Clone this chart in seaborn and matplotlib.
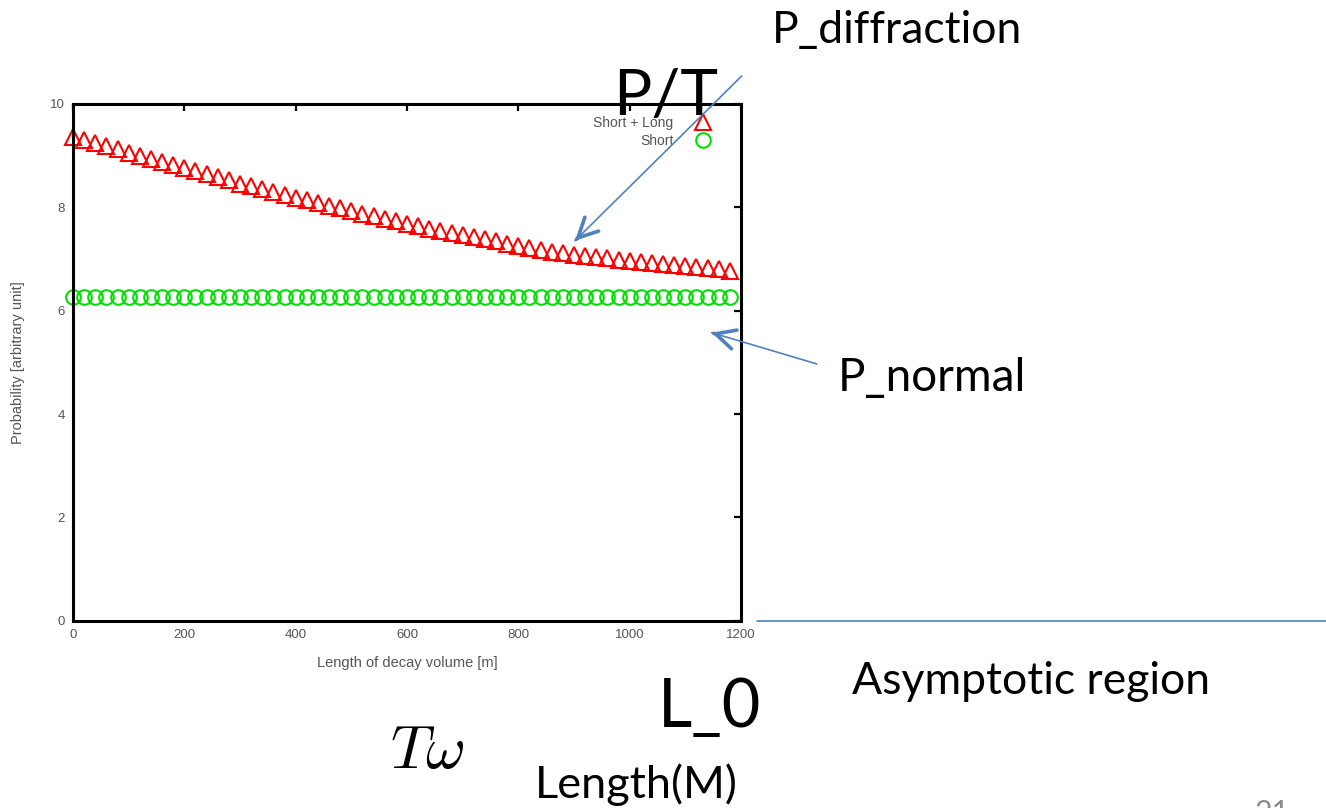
import matplotlib
matplotlib.use("Agg")
import matplotlib.pyplot as plt
import seaborn as sns
from matplotlib.patches import FancyArrowPatch
from matplotlib.lines import Line2D

# ---------------------------------------------------------------- data
length_m = [0, 20, 40, 60, 80, 100, 120, 140, 160, 180,
            200, 220, 240, 260, 280, 300, 320, 340, 360, 380,
            400, 420, 440, 460, 480, 500, 520, 540, 560, 580,
            600, 620, 640, 660, 680, 700, 720, 740, 760, 780,
            800, 820, 840, 860, 880, 900, 920, 940, 960, 980,
            1000, 1020, 1040, 1060, 1080, 1100, 1120, 1140, 1160, 1180]

short_long = [9.37, 9.31, 9.25, 9.18, 9.12, 9.06, 9.00, 8.94, 8.88, 8.82,
              8.76, 8.70, 8.64, 8.58, 8.52, 8.46, 8.41, 8.35, 8.30, 8.24,
              8.19, 8.14, 8.08, 8.03, 7.98, 7.93, 7.88, 7.83, 7.78, 7.73,
              7.68, 7.63, 7.58, 7.54, 7.50, 7.46, 7.42, 7.38, 7.34, 7.30,
              7.26, 7.22, 7.18, 7.14, 7.11, 7.08, 7.05, 7.03, 7.01, 6.99,
              6.97, 6.95, 6.93, 6.91, 6.89, 6.87, 6.85, 6.83, 6.80, 6.77]

short_only = [6.27, 6.27, 6.27, 6.27, 6.27, 6.27, 6.27, 6.27, 6.27, 6.27,
              6.27, 6.27, 6.27, 6.27, 6.27, 6.27, 6.27, 6.27, 6.27, 6.27,
              6.27, 6.27, 6.27, 6.27, 6.27, 6.27, 6.27, 6.27, 6.27, 6.27,
              6.27, 6.27, 6.27, 6.27, 6.27, 6.27, 6.27, 6.27, 6.27, 6.27,
              6.27, 6.27, 6.27, 6.27, 6.27, 6.27, 6.27, 6.27, 6.27, 6.27,
              6.27, 6.27, 6.27, 6.27, 6.27, 6.27, 6.27, 6.27, 6.27, 6.27]

x_ticks = [0, 200, 400, 600, 800, 1000, 1200]
y_ticks = [0, 2, 4, 6, 8, 10]

W, H = 1326, 808
BLUE = "#4f81bd"
GREY = "#555555"


def fig_xy(px, py):
    # pixel position (from top left) -> figure fraction
    return px / W, 1 - py / H


sns.set_theme(style="white")
plt.rcParams["font.family"] = ["Liberation Sans", "DejaVu Sans"]

fig = plt.figure(figsize=(W / 100, H / 100), dpi=100)
ax = fig.add_axes([73 / W, 1 - 620.7 / H, 668 / W, 516.7 / H])

############################################################################
# ------------------------------------------------------------ the two series
sns.lineplot(x=length_m, y=short_long, ax=ax, linestyle="", marker="^",
             markersize=11, markerfacecolor="none", markeredgecolor="#ff0000",
             markeredgewidth=1.5, clip_on=False, label="Short + Long")
sns.lineplot(x=length_m, y=short_only, ax=ax, linestyle="", marker="o",
             markersize=10.5, markerfacecolor="none", markeredgecolor="#00e000",
             markeredgewidth=1.5, clip_on=False, label="Short")

ax.set_xlim(0, 1200)
ax.set_ylim(0, 10)
ax.set_xticks(x_ticks)
ax.set_yticks(y_ticks)
ax.tick_params(direction="in", length=5, width=1.6, top=True, right=True,
               color="black", labelsize=9.5, labelcolor=GREY, pad=6)
for s in ax.spines.values():
    s.set_linewidth(2.2)
    s.set_color("black")

ax.set_xlabel("Length of decay volume [m]", fontsize=10.5, color=GREY)
ax.set_ylabel("Probability [arbitrary unit]", fontsize=10.5, color=GREY)
ax.xaxis.set_label_coords(0.5, -0.068)
ax.yaxis.set_label_coords(-0.072, 0.5)

ax.legend(loc="upper right", bbox_to_anchor=(0.955, 0.977), frameon=False,
          markerfirst=False, fontsize=10, handlelength=1.2, handletextpad=1.5,
          labelspacing=0.3, borderpad=0, borderaxespad=0, labelcolor=GREY)

############################################################################
# ------------------------------------------------------ slide annotations
def slide_text(px, py, s, size, **kw):
    kw.setdefault("family", ["Lato", "DejaVu Sans"])
    kw.setdefault("color", "black")
    fig.text(*fig_xy(px, py), s, fontsize=size, ha="left", va="baseline", **kw)


slide_text(772, 42.7, "P_diffraction", 32)
slide_text(613, 115, "P/T", 46)
slide_text(838, 391, "P_normal", 33)
slide_text(852, 694, "Asymptotic region", 32)
slide_text(658, 727, "L_0", 48)
slide_text(535, 798, "Length(M)", 32.5)
slide_text(1255, 822, "21", 22, color="#8c8c8c")
fig.text(*fig_xy(390, 768), r"$T\omega$", fontsize=44, math_fontfamily="cm",
         ha="left", va="baseline", color="black")


def slide_arrow(x0, y0, x1, y1):
    fig.add_artist(Line2D([x0 / W, x1 / W], [1 - y0 / H, 1 - y1 / H],
                          color=BLUE, lw=1.2, transform=fig.transFigure))
    dx, dy = x1 - x0, y1 - y0
    d = (dx ** 2 + dy ** 2) ** 0.5
    hx, hy = x1 - 2 * dx / d, y1 - 2 * dy / d
    fig.add_artist(FancyArrowPatch(fig_xy(hx, hy), fig_xy(x1, y1),
                                   transform=fig.transFigure,
                                   arrowstyle="->,head_length=0.7,head_width=0.35",
                                   mutation_scale=20, color=BLUE, lw=2.6,
                                   shrinkA=0, shrinkB=0))


slide_arrow(741.7, 76, 575, 240.7)
slide_arrow(817, 364, 711.7, 332.7)

fig.add_artist(Line2D([757 / W, 1.0], [1 - 621 / H, 1 - 621 / H],
                      color=BLUE, lw=1.2, transform=fig.transFigure))

fig.savefig("out.png", dpi=100)
